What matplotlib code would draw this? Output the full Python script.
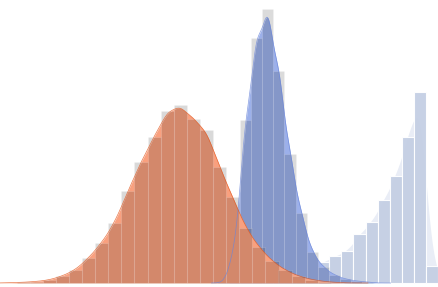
import numpy as np
import matplotlib
matplotlib.use("Agg")
import matplotlib.pyplot as plt

# Bin edges start + width, and bar heights
orange_start, orange_width = 3.4, 13.1
orange_counts = [0.3, 0.7, 1.5, 3, 7, 13, 25, 40, 60, 92, 121, 146, 172, 178,
                 164, 153, 116, 86, 55, 36, 22, 13, 7, 3.5, 1.5, 0.5]

blue_start, blue_width = 228.9, 11.1
blue_counts = [30, 163, 245, 274, 212, 129, 70, 31, 16, 8, 4, 2, 1]

light_start, light_width = 305.0, 12.1
light_counts = [15, 21, 27, 32, 49, 61, 83, 107, 146, 191, 17]


def kde_curve(start, width, counts, bw, grid):
    counts = np.asarray(counts, float)
    centers = start + width * (np.arange(len(counts)) + 0.5)
    area = np.sum(counts) * width
    w = counts / counts.sum()
    dens = np.zeros_like(grid)
    for c, wi in zip(centers, w):
        dens += wi * np.exp(-0.5 * ((grid - c) / bw) ** 2) / (bw * np.sqrt(2 * np.pi))
    return dens * area


def draw(ax, start, width, counts, bw, fill, line, bar_color, bar_alpha):
    grid = np.linspace(start - 3 * bw, start + width * len(counts) + 3 * bw, 600)
    y = kde_curve(start, width, counts, bw, grid)
    ax.fill_between(grid, 0, y, color=fill, lw=0)
    if line is not None:
        ax.plot(grid, y, color=line, lw=0.5, alpha=0.8)
    lefts = start + width * np.arange(len(counts))
    ax.bar(lefts, counts, width=width, align="edge", color=bar_color,
           alpha=bar_alpha, edgecolor=(1, 1, 1, 0.6), linewidth=0.8)


fig = plt.figure(figsize=(4.38, 2.87), dpi=100)
ax = fig.add_axes([0, 0, 1, 1])
ax.axis("off")

draw(ax, light_start, light_width, light_counts, 7, "#e9edf6", None, "#c4cfe4", 0.95)
draw(ax, blue_start, blue_width, blue_counts, 5.8, "#9cb0ea", "#6b86da", "black", 0.14)
draw(ax, orange_start, orange_width, orange_counts, 8, "#f9a07e", "#e2581f", "black", 0.15)

ax.set_xlim(0, 438)
ax.set_ylim(-4, 283)
fig.savefig("out.png", dpi=100)
